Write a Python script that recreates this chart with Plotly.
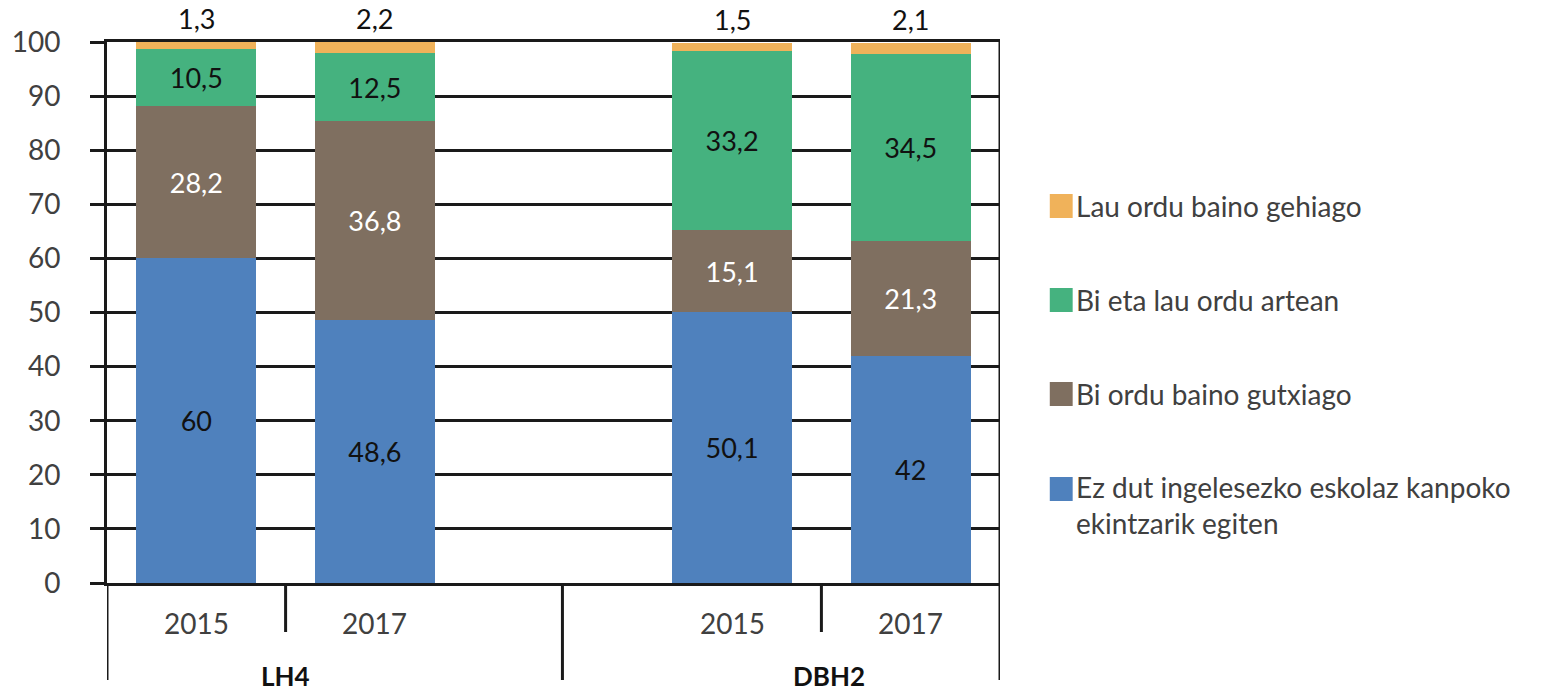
import plotly.graph_objects as go

# ---- data ----
x_pos = [0, 1, 3, 4]
years = ["2015", "2017", "2015", "2017"]
groups = ["LH4", "DBH2"]
group_pos = [0.5, 3.54]

series_names = [
    "Ez dut ingelesezko eskolaz kanpoko<br>ekintzarik egiten",
    "Bi ordu baino gutxiago",
    "Bi eta lau ordu artean",
    "Lau ordu baino gehiago",
]
ez_dut = [60, 48.6, 50.1, 42]
bi_gutxiago = [28.2, 36.8, 15.1, 21.3]
bi_lau = [10.5, 12.5, 33.2, 34.5]
lau_gehiago = [1.3, 2.2, 1.5, 2.1]

colors = ["#4F81BD", "#7F6F60", "#45B27F", "#F0B25A"]
label_colors = ["#111111", "#FFFFFF", "#111111", "#111111"]

FONT = "Lato"


def fmt(v):
    return f"{v:g}".replace(".", ",")


fig = go.Figure()
all_series = [ez_dut, bi_gutxiago, bi_lau, lau_gehiago]
for i, (name, vals) in enumerate(zip(series_names, all_series)):
    inside = i < 3
    fig.add_trace(go.Bar(
        x=x_pos, y=vals, name=name, width=0.67,
        marker=dict(color=colors[i], line=dict(width=0)),
        text=[fmt(v) for v in vals] if inside else None,
        textposition="inside" if inside else "none",
        insidetextanchor="middle",
        textangle=0,
        textfont=dict(family=FONT, size=27, color=label_colors[i]),
        cliponaxis=False,
        showlegend=False,
    ))

# labels above the stacks for the top (orange) series
totals = [a + b + c + d for a, b, c, d in zip(*all_series)]
for xv, tot, v in zip(x_pos, totals, lau_gehiago):
    fig.add_annotation(x=xv, xref="x", y=min(tot, 100), yref="y", text=fmt(v),
                       yanchor="bottom", yshift=5, showarrow=False,
                       font=dict(family=FONT, size=27, color="#111111"))

fig.update_layout(
    width=1566, height=696,
    barmode="stack",
    plot_bgcolor="white", paper_bgcolor="white",
    margin=dict(l=103, r=566, t=42, b=113),
    font=dict(family=FONT, size=27, color="#404040"),
)
fig.update_xaxes(
    range=[-0.5, 4.5], showticklabels=False, showgrid=False, zeroline=False,
    showline=True, linecolor="#1a1a1a", linewidth=3, mirror=True, ticks="",
)
fig.update_yaxes(
    range=[0, 100], dtick=10, showgrid=True, gridcolor="#1a1a1a", gridwidth=3,
    zeroline=False, showline=True, linecolor="#1a1a1a", linewidth=3,
    ticks="outside", ticklen=14, tickwidth=3, tickcolor="#1a1a1a",
    ticklabelstandoff=24,
    tickfont=dict(family=FONT, size=28, color="#404040"),
)

# category axis dividers
PH = 583 - 42
def py(p):
    return (583 - p) / PH

for xv, bottom in [(-0.5, 680), (0.5, 632), (2.05, 680), (3.5, 632), (4.5, 680)]:
    fig.add_shape(type="line", xref="x", yref="paper", x0=xv, x1=xv,
                  y0=py(bottom), y1=1 if xv == 4.5 else 0,
                  line=dict(color="#1a1a1a", width=3))

for xv, yr in zip(x_pos, years):
    fig.add_annotation(x=xv, xref="x", y=py(623), yref="paper", text=yr,
                       yanchor="middle", showarrow=False,
                       font=dict(family=FONT, size=28, color="#404040"))
for xv, g in zip(group_pos, groups):
    fig.add_annotation(x=xv, xref="x", y=py(694), yref="paper", text="<b>" + g + "</b>",
                       yanchor="bottom", showarrow=False,
                       font=dict(family=FONT, size=26, color="#111111"))

# manual legend (reversed order)
PW = 1000 - 103
def pxp(p):
    return (p - 103) / PW

legend_y = [206, 300, 394, 489]
for k, idx in enumerate([3, 2, 1, 0]):
    yc = legend_y[k]
    fig.add_shape(type="rect", xref="paper", yref="paper",
                  x0=pxp(1050), x1=pxp(1073), y0=py(yc + 12), y1=py(yc - 12),
                  fillcolor=colors[idx], line=dict(width=0))
    ytxt = yc if idx != 0 else yc + 16
    fig.add_annotation(xref="paper", yref="paper", x=pxp(1074), y=py(ytxt),
                       xanchor="left", yanchor="middle", align="left",
                       text=series_names[idx], showarrow=False,
                       font=dict(family=FONT, size=28, color="#404040"))

fig.write_html("out.html", config={"displayModeBar": False},
               post_script="document.body.style.margin='0';")
